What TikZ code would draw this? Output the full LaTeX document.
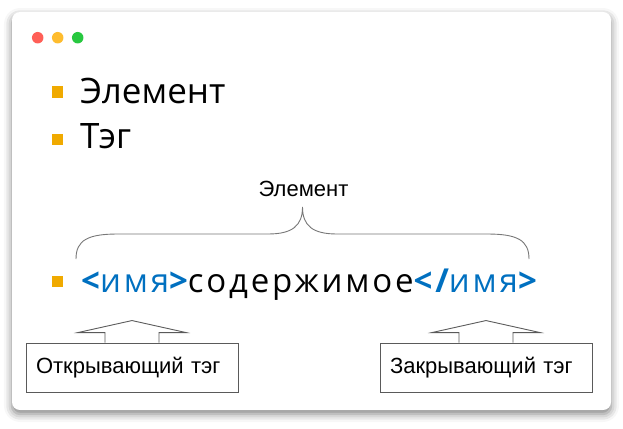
\documentclass[tikz,border=0pt]{standalone}
\usepackage{fontspec}
\setmainfont{Open Sans}
\newfontfamily\labelfont{Liberation Sans}
\newfontfamily\codefont[LetterSpace=8.5]{Open Sans}
\usetikzlibrary{shadows.blur,calc}
\definecolor{bulletorange}{RGB}{240,170,0}
\definecolor{tagblue}{RGB}{0,112,192}
\definecolor{linegray}{RGB}{90,90,90}
\definecolor{bracegray}{RGB}{120,120,120}
\definecolor{dotred}{RGB}{255,95,87}
\definecolor{dotyellow}{RGB}{254,188,46}
\definecolor{dotgreen}{RGB}{40,200,64}
\tikzset{
  card/.style={fill=white, rounded corners=8pt,
    blur shadow={shadow xshift=0pt, shadow yshift=-4pt, shadow blur radius=8pt, shadow opacity=50}},
  wdot/.style={circle, inner sep=0pt, minimum size=11.5pt},
  bulletsq/.style={fill=bulletorange, inner sep=0pt, minimum size=11.5pt},
  bigtext/.style={anchor=base west, inner sep=0pt, font=\fontsize{35}{40}\selectfont},
  codetext/.style={anchor=base west, inner sep=0pt, font=\codefont\fontsize{33}{38}\selectfont},
  callbox/.style={draw=linegray, line width=0.9pt, inner xsep=10pt, minimum height=49pt,
    text width=192pt, align=left, font=\labelfont\fontsize{22}{26}\selectfont},
  callarrow/.style={draw=linegray, line width=0.9pt},
  bracelabel/.style={inner sep=0pt, font=\labelfont\fontsize{22}{26}\selectfont}
}
\begin{document}
\begin{tikzpicture}[x=1pt, y=-1pt]
\useasboundingbox (0,0) rectangle (623,428);
\path[card] (12,12) rectangle (611,410);
% window dots
\node[wdot, fill=dotred] (dr) at (37.7,37.7) {};
\node[wdot, fill=dotyellow] (dy) at (57.7,37.7) {};
\node[wdot, fill=dotgreen] (dg) at (77.7,37.7) {};
% bullets
\node[bulletsq] (b1) at (57.5,92) {};
\node[bulletsq] (b2) at (57.5,139.5) {};
\node[bulletsq] (b3) at (57.5,281.5) {};
\node[bigtext] (t1) at (80,103) {Элемент};
\node[bigtext] (t2) at (80,148) {Тэг};
\node[codetext] (code) at (81,292) {\textcolor{tagblue}{\bfseries<}\textcolor{tagblue}{имя}\textcolor{tagblue}{\bfseries>}содержимое\textcolor{tagblue}{\bfseries</}\textcolor{tagblue}{имя}\textcolor{tagblue}{\bfseries>}};
% brace
\coordinate (bl) at (76,259);
\coordinate (br) at (529,259);
\coordinate (btip) at (302.5,207);
\draw[bracegray, line width=0.9pt] (bl) .. controls (76,240) and (88,234) .. (118,234)
  -- (268,234) .. controls (292,234) and (302.5,226) .. (btip)
  .. controls (302.5,226) and (313,234) .. (337,234)
  -- (487,234) .. controls (517,234) and (529,240) .. (br);
\node[bracelabel] (elabel) at (303.5,189) {Элемент};
% callout boxes
\node[callbox] (obox) at (132,367.5) {Открывающий тэг};
\node[callbox] (cbox) at (486,367.5) {Закрывающий тэг};
\foreach \b in {obox,cbox}{
  \fill[white] ($(\b.north)+(-26.5,0.6)$) rectangle ($(\b.north)+(26.5,-10)$);
  \draw[callarrow] ($(\b.north)+(-27,0)$) -- ($(\b.north)+(-27,-10)$) -- ($(\b.north)+(-54,-10)$)
    -- ($(\b.north)+(0,-22)$) -- ($(\b.north)+(54,-10)$) -- ($(\b.north)+(27,-10)$) -- ($(\b.north)+(27,0)$);
}
\end{tikzpicture}
\end{document}
